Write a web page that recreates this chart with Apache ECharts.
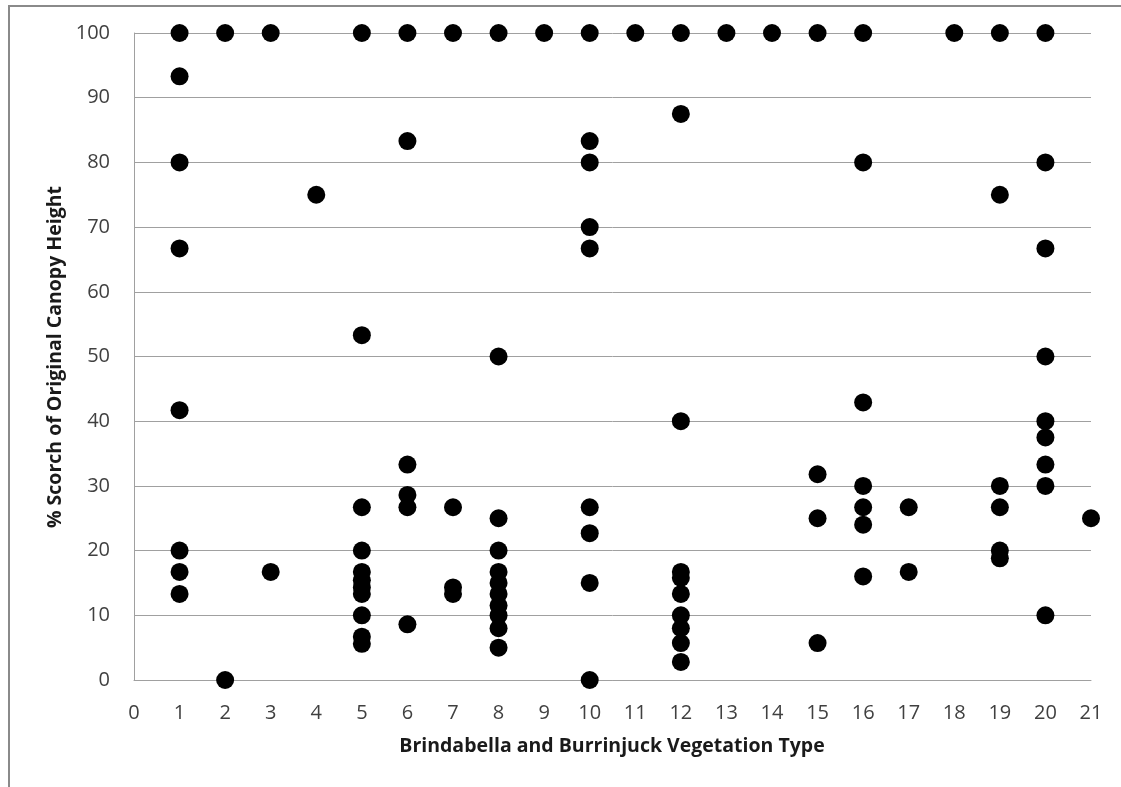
<!DOCTYPE html>
<html>
<head>
<meta charset="utf-8">
<script src="https://cdn.jsdelivr.net/npm/echarts@6/dist/echarts.min.js"></script>
<style>html,body{margin:0;padding:0;background:#fff;}#c{width:1121px;height:787px;}</style>
</head>
<body>
<div id="c"></div>
<script>
// Vegetation type (x) and % scorch (y)
const vegType = [
  1,1,1,1,1,1,1,1,
  2,2,
  3,3,
  4,
  5,5,5,5,5,5,5,5,5,5,5,
  6,6,6,6,6,6,
  7,7,7,7,
  8,8,8,8,8,8,8,8,8,8,8,
  9,
  10,10,10,10,10,10,10,10,10,
  11,
  12,12,12,12,12,12,12,12,12,12,
  13,
  14,
  15,15,15,15,
  16,16,16,16,16,16,16,
  17,17,
  18,
  19,19,19,19,19,19,
  20,20,20,20,20,20,20,20,20,
  21
];
const scorch = [
  100,93.3,80,66.7,41.7,20,16.7,13.3,
  100,0,
  100,16.7,
  75,
  100,53.3,26.7,20,16.7,15.4,14.3,13.3,10,6.7,5.6,
  100,83.3,33.3,28.6,26.7,8.6,
  100,26.7,14.3,13.3,
  100,50,25,20,16.7,15,13.3,11.5,10,8,5,
  100,
  100,83.3,80,70,66.7,26.7,22.7,15,0,
  100,
  100,87.5,40,16.7,15.8,13.3,10,8,5.7,2.8,
  100,
  100,
  100,31.8,25,5.7,
  100,80,42.9,30,26.7,24,16,
  26.7,16.7,
  100,
  100,75,30,26.7,20,18.8,
  100,80,66.7,50,40,37.5,33.3,30,10,
  25
];
const xTicks = [0,1,2,3,4,5,6,7,8,9,10,11,12,13,14,15,16,17,18,19,20,21];
const yTicks = [0,10,20,30,40,50,60,70,80,90,100];

const points = vegType.map((x, i) => [x, scorch[i]]);
const font = '"Open Sans", "Liberation Sans", sans-serif';

const chart = echarts.init(document.getElementById('c'), null, {renderer: 'canvas'});
chart.setOption({
  animation: false,
  backgroundColor: '#ffffff',
  grid: {left: 134, top: 33, right: 30, bottom: 107, containLabel: false},
  xAxis: {
    type: 'value',
    min: xTicks[0], max: xTicks[xTicks.length - 1], interval: 1,
    axisLine: {show: true, lineStyle: {color: '#a0a0a0', width: 1}},
    axisTick: {show: false},
    splitLine: {show: false},
    axisLabel: {color: '#404040', fontFamily: font, fontSize: 20, margin: 23}
  },
  yAxis: {
    type: 'value',
    min: yTicks[0], max: yTicks[yTicks.length - 1], interval: 10,
    axisLine: {show: true, lineStyle: {color: '#a0a0a0', width: 1}},
    axisTick: {show: false},
    splitLine: {show: true, lineStyle: {color: '#a0a0a0', width: 1}},
    axisLabel: {color: '#404040', fontFamily: font, fontSize: 20, margin: 24}
  },
  series: [{
    type: 'scatter',
    data: points,
    symbol: 'circle',
    symbolSize: 18,
    itemStyle: {color: '#000000', opacity: 1},
    clip: false
  }],
  graphic: [
    {type: 'polyline', shape: {points: [[9, 800], [9, 6], [1121, 6]]},
     style: {fill: null, stroke: '#8a8a8a', lineWidth: 2}, silent: true, z: -1},
    {type: 'text', x: 612, y: 746,
     style: {text: 'Brindabella and Burrinjuck Vegetation Type', fill: '#1a1a1a',
             font: 'bold 19.5px ' + font, textAlign: 'center', textVerticalAlign: 'middle'}},
    {type: 'text', x: 55, y: 357, rotation: Math.PI / 2,
     style: {text: '% Scorch of Original Canopy Height', fill: '#1a1a1a',
             font: 'bold 19.5px ' + font, textAlign: 'center', textVerticalAlign: 'middle'}}
  ]
});
</script>
</body>
</html>
